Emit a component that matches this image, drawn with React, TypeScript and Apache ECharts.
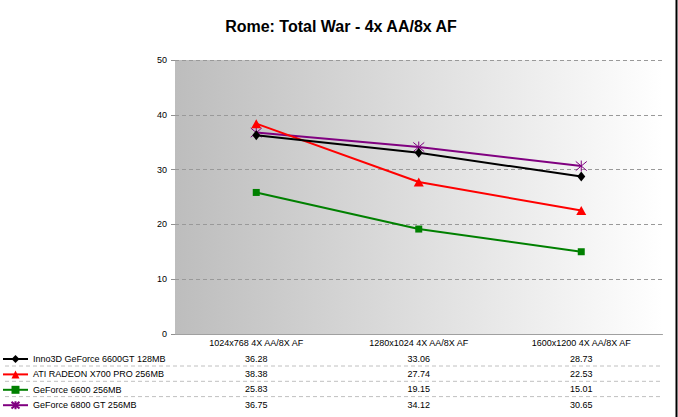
import React, { useEffect, useRef } from "react";
import * as echarts from "echarts";

const categories = ["1024x768 4X AA/8X AF", "1280x1024 4X AA/8X AF", "1600x1200 4X AA/8X AF"];
const seriesNames = [
  "Inno3D GeForce 6600GT 128MB",
  "ATI RADEON X700 PRO 256MB",
  "GeForce 6600 256MB",
  "GeForce 6800 GT 256MB",
];
const inno6600gt = [36.28, 33.06, 28.73];
const atiX700pro = [38.38, 27.74, 22.53];
const geforce6600 = [25.83, 19.15, 15.01];
const geforce6800gt = [36.75, 34.12, 30.65];
const yTicks = { min: 0, max: 50, interval: 10 };

const seriesData = [inno6600gt, atiX700pro, geforce6600, geforce6800gt];
const colors = ["#000000", "#ff0000", "#008000", "#800080"];
const symbols = [
  "diamond",
  "triangle",
  "rect",
  "path://M0,0L10,10M10,0L0,10M5,-1L5,11M5,5L5,5",
];
const symbolSizes: any[] = [[8, 10], [10, 9], 7, 11];

export default function App() {
  const ref = useRef<HTMLDivElement>(null);
  useEffect(() => {
    if (!ref.current) return;
    const chart = echarts.init(ref.current, undefined, { renderer: "svg" });
    const font = "'Liberation Sans', Arial, sans-serif";
    chart.setOption({
      animation: false,
      textStyle: { fontFamily: font },
      title: {
        text: "Rome: Total War - 4x AA/8x AF",
        left: 336,
        textAlign: "center",
        top: 13,
        textStyle: { fontSize: 16, fontWeight: "bold", color: "#000", fontFamily: font },
      },
      grid: {
        left: 175,
        right: 15.5,
        top: 60,
        bottom: 83,
        show: true,
        borderWidth: 0,
        backgroundColor: new echarts.graphic.LinearGradient(0, 0, 1, 0, [
          { offset: 0, color: "#bdbdbd" },
          { offset: 1, color: "#ffffff" },
        ]),
      },
      legend: {
        orient: "vertical",
        left: 2,
        top: 354,
        padding: 0,
        itemWidth: 25,
        itemHeight: 10,
        itemGap: 5.4,
        textStyle: { fontSize: 9, color: "#000", fontFamily: font, lineHeight: 10 },
        data: seriesNames,
      },
      xAxis: {
        type: "category",
        data: categories,
        boundaryGap: true,
        axisLine: { show: true, lineStyle: { color: "#a0a0a0", width: 1 } },
        axisTick: { show: false },
        splitLine: { show: false },
        axisLabel: {
          interval: 0,
          margin: 0,
          color: "#000",
          fontSize: 9,
          fontFamily: font,
          formatter: (val: string, idx: number) =>
            [`{h|${val}}`, ...seriesData.map((d) => `{v|${d[idx].toFixed(2)}}`)].join("\n"),
          rich: {
            h: { fontSize: 9, lineHeight: 17, color: "#000", fontFamily: font },
            v: { fontSize: 9, lineHeight: 15.3, color: "#000", fontFamily: font },
          },
        },
      },
      yAxis: {
        type: "value",
        min: yTicks.min,
        max: yTicks.max,
        interval: yTicks.interval,
        axisLine: { show: false },
        axisTick: { show: true, length: 4, lineStyle: { color: "#909090" } },
        axisLabel: { color: "#000", fontSize: 9, margin: 8, fontFamily: font },
        splitLine: { show: true, lineStyle: { color: "#999999", type: [4, 3], width: 1 } },
      },
      series: seriesNames.map((name, i) => ({
        name,
        type: "line",
        data: seriesData[i],
        symbol: symbols[i],
        symbolSize: symbolSizes[i],
        showAllSymbol: true,
        lineStyle: { color: colors[i], width: 2 },
        itemStyle:
          i === 3
            ? { color: colors[i], borderColor: colors[i], borderWidth: 1 }
            : { color: colors[i] },
        z: 10 - i,
      })),
      graphic: [
        ...[366, 381.3, 396.6].map((y) => ({
          type: "line",
          shape: { x1: 5, y1: y, x2: 660, y2: y },
          style: { stroke: "#c0c0c0", lineWidth: 1, lineDash: [4, 3] },
          silent: true,
        })),
        {
          type: "line",
          shape: { x1: 676.5, y1: 0, x2: 676.5, y2: 417 },
          style: { stroke: "#000", lineWidth: 2 },
          silent: true,
        },
      ],
    });
    return () => chart.dispose();
  }, []);
  return (
    <div
      ref={ref}
      style={{ width: 678, height: 417, position: "fixed", left: 0, top: 0, background: "#fff" }}
    />
  );
}
